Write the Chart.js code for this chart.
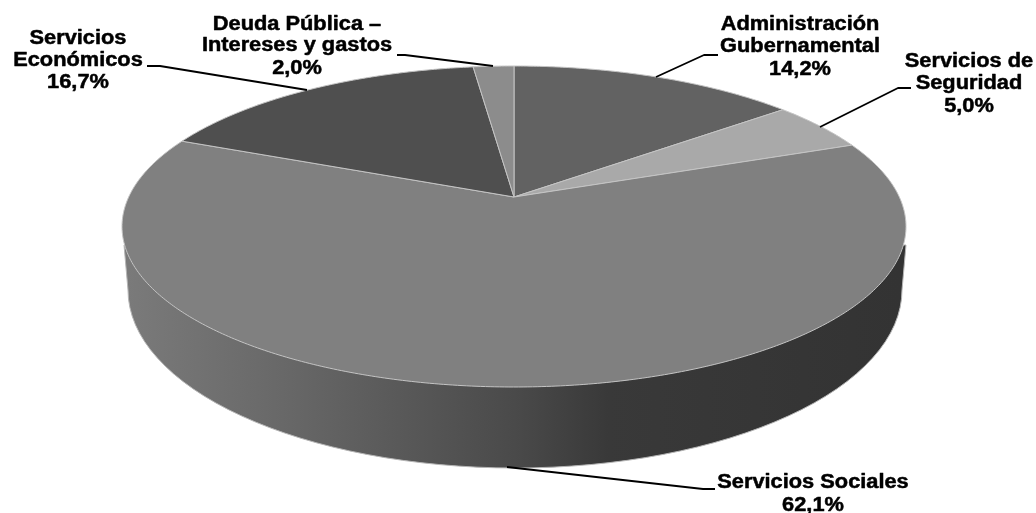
<!DOCTYPE html>
<html lang="es">
<head>
<meta charset="utf-8">
<style>html,body{margin:0;padding:0;background:#fff}canvas{display:block}</style>
<script src="https://cdn.jsdelivr.net/npm/chart.js@4"></script>
</head>
<body>
<canvas id="c" width="1036" height="513"></canvas>
<script>
const categories = ['Administración Gubernamental','Servicios de Seguridad','Servicios Sociales','Servicios Económicos','Deuda Pública – Intereses y gastos'];
const values = [14.2, 5.0, 62.1, 16.7, 2.0];
const sliceColors = ['#626262','#a9a9a9','#808080','#4f4f4f','#8c8c8c'];

const top3d = {cx:514, cy:226.5, rx:392, ry:160.5, apexY:197};
const wall = {cx:515, cy:290, rx:387, ry:178, topY:245, topLeft:124, topRight:906};
const wallStops = [[0,'#7a7a7a'],[0.2,'#686868'],[0.5,'#4a4a4a'],[0.62,'#393939'],[1,'#333333']];
const labelFont = 'bold 20px "Liberation Sans", Arial, sans-serif';
const labelStretch = 1.09;
const labelLayout = [
  {x:800, lines:['Administración','Gubernamental','14,2%'], y:[30,52,75], leader:[[718,55],[704,55],[656,77]]},
  {x:969, lines:['Servicios de','Seguridad','5,0%'], y:[67,89,112], leader:[[911,88],[898,88],[820,127]]},
  {x:813, lines:['Servicios Sociales','62,1%'], y:[488,511], leader:[[715,489],[703,489],[507,467]]},
  {x:78, lines:['Servicios','Económicos','16,7%'], y:[44,66,88], leader:[[147,66],[160,66],[307,90]]},
  {x:297, lines:['Deuda Pública –','Intereses y gastos','2,0%'], y:[30,51,74], leader:[[397,55],[405,55],[493,66]]}
];

function project(a){
  const k=(top3d.apexY-top3d.cy)/top3d.ry, u=Math.cos(a), v=Math.sin(a), d=1+k*v;
  return [top3d.cx+top3d.rx*u*Math.sqrt(1-k*k)/d, top3d.cy+top3d.ry*(v+k)/d];
}
const apex=()=>[top3d.cx, top3d.apexY];

const pie3d = {
  id:'pie3d',
  beforeDatasetDraw(chart){
    const ctx=chart.ctx, arcs=chart.getDatasetMeta(0).data;
    ctx.save();
    const g=ctx.createLinearGradient(wall.cx-wall.rx,0,wall.cx+wall.rx,0);
    wallStops.forEach(s=>g.addColorStop(s[0],s[1]));
    ctx.beginPath();
    ctx.moveTo(wall.topLeft,wall.topY);
    ctx.lineTo(wall.cx-wall.rx,wall.cy);
    ctx.ellipse(wall.cx,wall.cy,wall.rx,wall.ry,0,Math.PI,0,true);
    ctx.lineTo(wall.topRight,wall.topY);
    ctx.closePath();
    ctx.fillStyle=g; ctx.fill();
    ctx.strokeStyle='#b5b5b5'; ctx.lineWidth=1; ctx.stroke();
    arcs.forEach(arc=>{
      ctx.beginPath();
      ctx.moveTo(...apex());
      const n=Math.max(4,Math.ceil((arc.endAngle-arc.startAngle)/0.01));
      for(let i=0;i<=n;i++) ctx.lineTo(...project(arc.startAngle+(arc.endAngle-arc.startAngle)*i/n));
      ctx.closePath();
      ctx.fillStyle=arc.options.backgroundColor; ctx.fill();
      ctx.strokeStyle=arc.options.borderColor; ctx.lineWidth=arc.options.borderWidth; ctx.stroke();
    });
    ctx.restore();
    return false;
  },
  afterDatasetsDraw(chart){
    const ctx=chart.ctx;
    ctx.save();
    ctx.strokeStyle='#000'; ctx.lineWidth=1.8; ctx.lineJoin='round';
    labelLayout.forEach(l=>{
      ctx.beginPath();
      l.leader.forEach((p,i)=>i?ctx.lineTo(p[0],p[1]):ctx.moveTo(p[0],p[1]));
      ctx.stroke();
    });
    ctx.fillStyle='#000'; ctx.font=labelFont; ctx.textAlign='center'; ctx.textBaseline='alphabetic';
    ctx.lineWidth=0.5;
    labelLayout.forEach(l=>l.lines.forEach((t,i)=>{
      ctx.save();
      ctx.translate(l.x,l.y[i]);
      ctx.scale(labelStretch,1);
      ctx.fillText(t,0,0);
      ctx.strokeText(t,0,0);
      ctx.restore();
    }));
    ctx.restore();
  }
};

new Chart(document.getElementById('c'),{
  type:'pie',
  data:{labels:categories,datasets:[{data:values,backgroundColor:sliceColors,borderColor:'#c4c4c4',borderWidth:1}]},
  options:{responsive:false,animation:false,devicePixelRatio:1,plugins:{legend:{display:false},tooltip:{enabled:false}}},
  plugins:[pie3d]
});
</script>
</body>
</html>
